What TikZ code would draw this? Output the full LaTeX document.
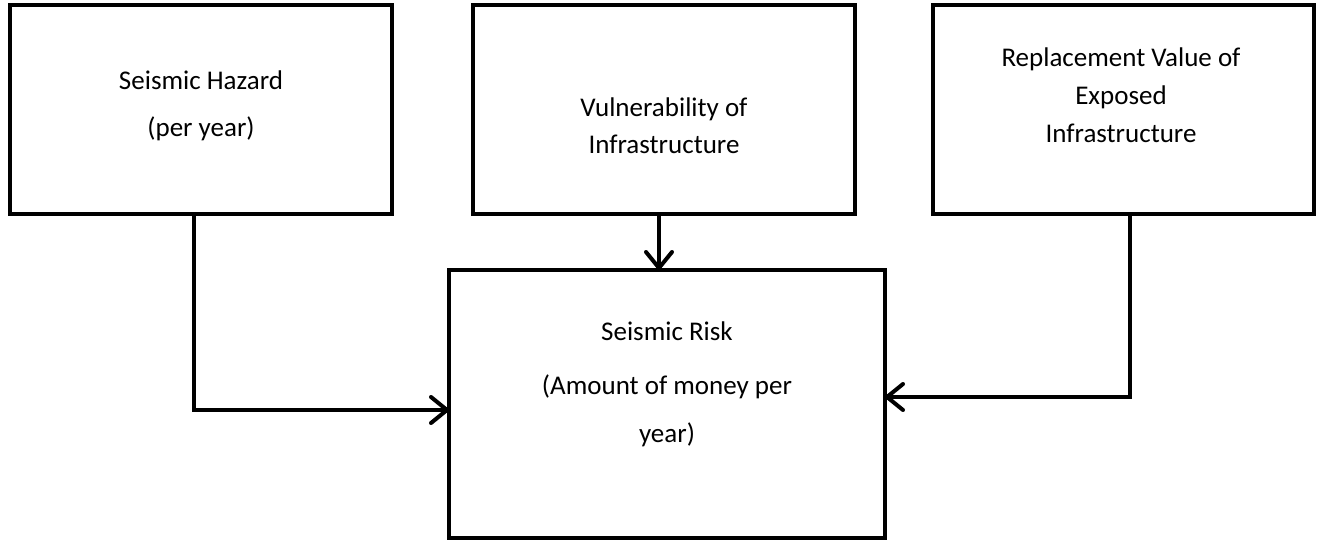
\documentclass[tikz,border=0pt]{standalone}
\usepackage{fontspec}
\setmainfont{Carlito}
\usetikzlibrary{arrows.meta,positioning}
\begin{document}
\begin{tikzpicture}[x=1pt,y=-1pt,
  box/.style={draw,line width=4.5pt,inner sep=0pt,outer sep=0pt,minimum width=#1},
  box/.default=382pt,
  txt/.style={align=center,inner sep=0pt},
  link/.style={line width=4pt,-{Straight Barb[length=16pt,width=26pt,round]}}]
  \useasboundingbox (0,0) rectangle (1319,541);
  % input boxes
  \node[box=382pt,minimum height=209pt] (haz) at (201,109.5) {};
  \node[box=382pt,minimum height=209pt] (vul) at (664,109.5) {};
  \node[box=381pt,minimum height=209pt] (rep) at (1123.5,109.5) {};
  % result box
  \node[box=436pt,minimum height=268pt] (risk) at (667,404) {};
  % labels
  \node[txt,font=\fontsize{27}{47}\selectfont] (hazt) at (201,106) {Seismic Hazard\\(per year)};
  \node[txt,font=\fontsize{27}{37}\selectfont] (vult) at (664,126) {Vulnerability of\\Infrastructure};
  \node[txt,font=\fontsize{27}{38}\selectfont] (rept) at (1121,95) {Replacement Value of\\Exposed\\Infrastructure};
  \node[txt,font=\fontsize{27}{48}\selectfont] (riskt) at (667,384) {Seismic Risk\\[6pt](Amount of money per\\year)};
  % connectors
  \coordinate (c1) at (194,410);
  \coordinate (c3) at (1130,397);
  \draw[link] (haz.south -| c1) |- (c1) -- (risk.west |- c1);
  \draw[link] (vul.south -| 659,0) -- (risk.north -| 659,0);
  \draw[link] (rep.south -| c3) |- (c3) -- (risk.east |- c3);
\end{tikzpicture}
\end{document}
